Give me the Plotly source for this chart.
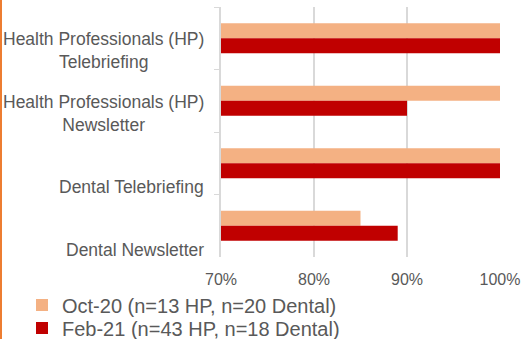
import plotly.graph_objects as go

# Survey categories, top to bottom
categories = [
    "Health Professionals (HP)<br>Telebriefing",
    "Health Professionals (HP)<br>Newsletter",
    "Dental Telebriefing",
    "Dental Newsletter",
]

# Share of respondents (%)
oct20_values = [100, 100, 100, 85]
feb21_values = [100, 90, 100, 89]

series_names = [
    "Oct-20 (n=13 HP, n=20 Dental)",
    "Feb-21 (n=43 HP, n=18 Dental)",
]
series_colors = ["#F4B183", "#C00000"]

x_ticks = [70, 80, 90, 100]
x_tick_labels = ["70%", "80%", "90%", "100%"]
AXIS_START = 70

FONT = "Liberation Sans, Arial, sans-serif"
GREY_TEXT = "#595959"
GRID = "#D9D9D9"

W, H = 521, 339
ML, MR, MT, MB = 221, 21, 7, 82
PW, PH = W - ML - MR, H - MT - MB

fig = go.Figure()
legend_ids = ["legend", "legend2"]
for name, vals, col, lg in zip(series_names, [oct20_values, feb21_values],
                               series_colors, legend_ids):
    fig.add_trace(go.Bar(
        y=categories, x=[v - AXIS_START for v in vals], base=AXIS_START,
        orientation="h", name=name, legend=lg, showlegend=True,
        marker=dict(color=col, line=dict(width=0)),
    ))

# category labels, bottom-aligned within each band
for i, cat in enumerate(categories):
    fig.add_annotation(
        text=cat, xref="paper", yref="y", x=-15 / PW, y=i + 0.5,
        xanchor="right", yanchor="bottom", align="center", showarrow=False,
        font=dict(family=FONT, size=17.5, color=GREY_TEXT), yshift=-4.5,
    )

# orange rule along the left edge of the chart
fig.add_shape(type="line", xref="paper", yref="paper",
              x0=(1 - ML) / PW, x1=(1 - ML) / PW,
              y0=-MB / PH, y1=1 + MT / PH,
              line=dict(color="#ED7D31", width=2))

legend_style = dict(
    xanchor="left", yanchor="middle", orientation="v", visible=True,
    font=dict(family=FONT, size=20, color=GREY_TEXT),
    itemwidth=30, bgcolor="rgba(0,0,0,0)",
)

fig.update_layout(
    width=W, height=H, showlegend=True,
    margin=dict(l=ML, r=MR, t=MT, b=MB, autoexpand=False),
    barmode="group", bargap=0.52, bargroupgap=0,
    plot_bgcolor="white", paper_bgcolor="white",
    font=dict(family=FONT, size=16, color=GREY_TEXT),
    xaxis=dict(
        range=[70, 100], tickvals=x_ticks, ticktext=x_tick_labels,
        showgrid=True, gridcolor=GRID, gridwidth=1.5, zeroline=False,
        showline=False, ticks="", tickfont=dict(size=16, color=GREY_TEXT),
        automargin=False, ticklabeloverflow="allow", ticklabelstandoff=11,
    ),
    yaxis=dict(
        range=[len(categories) - 0.5, -0.5], autorange=False,
        showticklabels=False, showgrid=False,
        showline=True, linecolor=GRID, linewidth=1.5,
        ticks="outside", tickson="boundaries", ticklen=5, tickcolor=GRID,
        automargin=False,
    ),
    legend=dict(x=(22 - ML) / PW, y=(MT + PH - 305) / PH, **legend_style),
    legend2=dict(x=(22 - ML) / PW, y=(MT + PH - 328) / PH, **legend_style),
)

fig.write_html("out.html")
